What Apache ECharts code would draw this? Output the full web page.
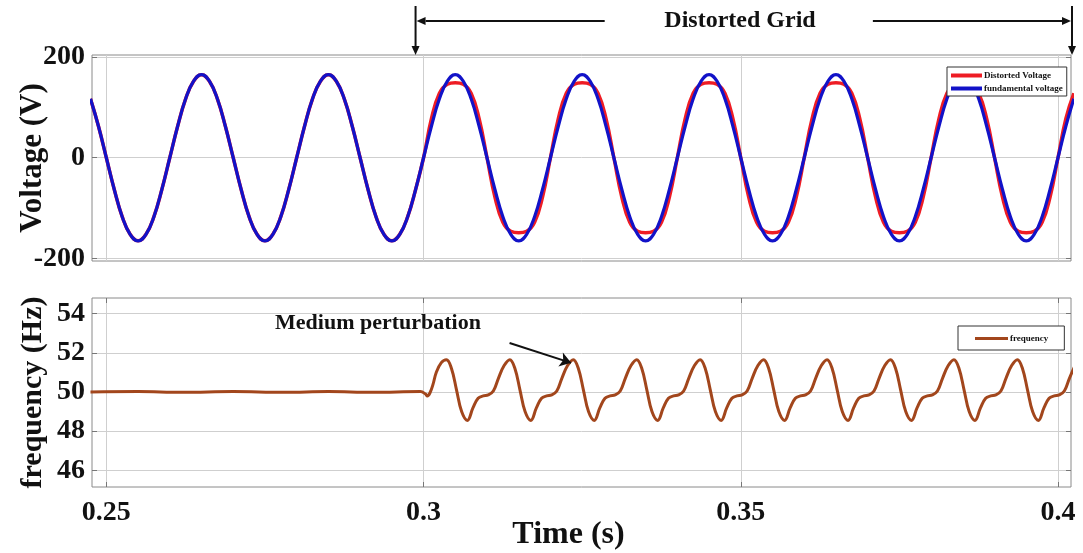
<!DOCTYPE html>
<html>
<head>
<meta http-equiv="Content-Type" content="text/html; charset=utf-8" />
<title>Distorted grid - voltage and frequency</title>
<style>
  body, html { padding: 0; margin: 0; background: #fff; }
</style>
</head>
<body>
<div id="container" style="width: 1083px; height: 553px"></div>
<script src="https://cdn.jsdelivr.net/npm/echarts@6/dist/echarts.min.js"></script>
<script>
// time samples of the voltage traces (s)
var voltTime = [0.2475, 0.24875,
  0.25, 0.25125, 0.2525, 0.25375, 0.255, 0.25625, 0.2575, 0.25875,
  0.26, 0.26125, 0.2625, 0.26375, 0.265, 0.26625, 0.2675, 0.26875,
  0.27, 0.27125, 0.2725, 0.27375, 0.275, 0.27625, 0.2775, 0.27875,
  0.28, 0.28125, 0.2825, 0.28375, 0.285, 0.28625, 0.2875, 0.28875,
  0.29, 0.29125, 0.2925, 0.29375, 0.295, 0.29625, 0.2975, 0.29875,
  0.30, 0.30125, 0.3025, 0.30375, 0.305, 0.30625, 0.3075, 0.30875,
  0.31, 0.31125, 0.3125, 0.31375, 0.315, 0.31625, 0.3175, 0.31875,
  0.32, 0.32125, 0.3225, 0.32375, 0.325, 0.32625, 0.3275, 0.32875,
  0.33, 0.33125, 0.3325, 0.33375, 0.335, 0.33625, 0.3375, 0.33875,
  0.34, 0.34125, 0.3425, 0.34375, 0.345, 0.34625, 0.3475, 0.34875,
  0.35, 0.35125, 0.3525, 0.35375, 0.355, 0.35625, 0.3575, 0.35875,
  0.36, 0.36125, 0.3625, 0.36375, 0.365, 0.36625, 0.3675, 0.36875,
  0.37, 0.37125, 0.3725, 0.37375, 0.375, 0.37625, 0.3775, 0.37875,
  0.38, 0.38125, 0.3825, 0.38375, 0.385, 0.38625, 0.3875, 0.38875,
  0.39, 0.39125, 0.3925, 0.39375, 0.395, 0.39625, 0.3975, 0.39875,
  0.40, 0.40125, 0.4025];

// fundamental voltage (V)
var fundamentalV = [117, 63,
  0, -63, -117, -152, -165, -152, -117, -63,
  0, 63, 117, 152, 165, 152, 117, 63,
  0, -63, -117, -152, -165, -152, -117, -63,
  0, 63, 117, 152, 165, 152, 117, 63,
  0, -63, -117, -152, -165, -152, -117, -63,
  0, 63, 117, 152, 165, 152, 117, 63,
  0, -63, -117, -152, -165, -152, -117, -63,
  0, 63, 117, 152, 165, 152, 117, 63,
  0, -63, -117, -152, -165, -152, -117, -63,
  0, 63, 117, 152, 165, 152, 117, 63,
  0, -63, -117, -152, -165, -152, -117, -63,
  0, 63, 117, 152, 165, 152, 117, 63,
  0, -63, -117, -152, -165, -152, -117, -63,
  0, 63, 117, 152, 165, 152, 117, 63,
  0, -63, -117, -152, -165, -152, -117, -63,
  0, 63, 117];

// distorted voltage (V), flat-topped after 0.3 s
var distortedV = [117, 63,
  0, -63, -117, -152, -165, -152, -117, -63,
  0, 63, 117, 152, 165, 152, 117, 63,
  0, -63, -117, -152, -165, -152, -117, -63,
  0, 63, 117, 152, 165, 152, 117, 63,
  0, -63, -117, -152, -165, -152, -117, -63,
  0, 78, 128, 146, 149, 146, 128, 78,
  0, -78, -128, -146, -149, -146, -128, -78,
  0, 78, 128, 146, 149, 146, 128, 78,
  0, -78, -128, -146, -149, -146, -128, -78,
  0, 78, 128, 146, 149, 146, 128, 78,
  0, -78, -128, -146, -149, -146, -128, -78,
  0, 78, 128, 146, 149, 146, 128, 78,
  0, -78, -128, -146, -149, -146, -128, -78,
  0, 78, 128, 146, 149, 146, 128, 78,
  0, -78, -128, -146, -149, -146, -128, -78,
  0, 78, 128];

// frequency trace (s, Hz)
var freqTime = [0.2475, 0.255, 0.262, 0.27, 0.278, 0.285, 0.292, 0.2995,
  0.3003, 0.3006, 0.3010, 0.3015, 0.3020, 0.3028,
  0.3036, 0.3044, 0.3052, 0.3060, 0.3069, 0.3078, 0.3086, 0.3094, 0.3102, 0.3110, 0.3118, 0.3127,
  0.3136, 0.3144, 0.3152, 0.3160, 0.3169, 0.3178, 0.3186, 0.3194, 0.3202, 0.3210, 0.3218, 0.3227,
  0.3236, 0.3244, 0.3252, 0.3260, 0.3269, 0.3278, 0.3286, 0.3294, 0.3302, 0.3310, 0.3318, 0.3327,
  0.3336, 0.3344, 0.3352, 0.3360, 0.3369, 0.3378, 0.3386, 0.3394, 0.3402, 0.3410, 0.3418, 0.3427,
  0.3436, 0.3444, 0.3452, 0.3460, 0.3469, 0.3478, 0.3486, 0.3494, 0.3502, 0.3510, 0.3518, 0.3527,
  0.3536, 0.3544, 0.3552, 0.3560, 0.3569, 0.3578, 0.3586, 0.3594, 0.3602, 0.3610, 0.3618, 0.3627,
  0.3636, 0.3644, 0.3652, 0.3660, 0.3669, 0.3678, 0.3686, 0.3694, 0.3702, 0.3710, 0.3718, 0.3727,
  0.3736, 0.3744, 0.3752, 0.3760, 0.3769, 0.3778, 0.3786, 0.3794, 0.3802, 0.3810, 0.3818, 0.3827,
  0.3836, 0.3844, 0.3852, 0.3860, 0.3869, 0.3878, 0.3886, 0.3894, 0.3902, 0.3910, 0.3918, 0.3927,
  0.3936, 0.3944, 0.3952, 0.3960, 0.3969, 0.3978, 0.3986, 0.3994, 0.4002, 0.4010, 0.4018, 0.4027];
var freqValue = [50.0, 50.02, 49.99, 50.02, 49.99, 50.02, 49.99, 50.02,
  49.9, 49.8, 49.95, 50.4, 51.0, 51.5,
  51.65, 51.2, 50.1, 49.0, 48.55, 49.2, 49.68, 49.8, 49.85, 50.05, 50.7, 51.35,
  51.65, 51.2, 50.1, 49.0, 48.55, 49.2, 49.68, 49.8, 49.85, 50.05, 50.7, 51.35,
  51.65, 51.2, 50.1, 49.0, 48.55, 49.2, 49.68, 49.8, 49.85, 50.05, 50.7, 51.35,
  51.65, 51.2, 50.1, 49.0, 48.55, 49.2, 49.68, 49.8, 49.85, 50.05, 50.7, 51.35,
  51.65, 51.2, 50.1, 49.0, 48.55, 49.2, 49.68, 49.8, 49.85, 50.05, 50.7, 51.35,
  51.65, 51.2, 50.1, 49.0, 48.55, 49.2, 49.68, 49.8, 49.85, 50.05, 50.7, 51.35,
  51.65, 51.2, 50.1, 49.0, 48.55, 49.2, 49.68, 49.8, 49.85, 50.05, 50.7, 51.35,
  51.65, 51.2, 50.1, 49.0, 48.55, 49.2, 49.68, 49.8, 49.85, 50.05, 50.7, 51.35,
  51.65, 51.2, 50.1, 49.0, 48.55, 49.2, 49.68, 49.8, 49.85, 50.05, 50.7, 51.35,
  51.65, 51.2, 50.1, 49.0, 48.55, 49.2, 49.68, 49.8, 49.85, 50.05, 50.7, 51.35];

var timeTicks = [0.25, 0.3, 0.35, 0.4];
var voltTicks = [-200, 0, 200];
var freqTicks = [46, 48, 50, 52, 54];

var tMin = 0.24774, tMax = 0.40205;
var serif = '"Liberation Serif", "Times New Roman", serif';

function pairs(xs, ys) {
  var out = [];
  for (var i = 0; i < xs.length; i++) out.push([xs[i], ys[i]]);
  return out;
}

function xAx(grid, pos, labels) {
  return {
    type: 'value', gridIndex: grid, position: pos, min: tMin, max: tMax,
    nameMoveOverlap: false,
    axisLine: { show: false },
    axisTick: { show: true, inside: true, length: 5, customValues: timeTicks, lineStyle: { color: '#777' } },
    axisLabel: { show: labels, customValues: timeTicks, margin: 12, color: '#111', fontFamily: serif, fontWeight: 'bold', fontSize: 28,
      formatter: function (v) { return String(+v.toFixed(2)); } },
    splitLine: { show: pos === 'bottom', lineStyle: { color: '#cfcfcf', width: 1 } }
  };
}

function yAx(grid, pos, min, max, ticks, name, nameSize) {
  return {
    type: 'value', gridIndex: grid, position: pos, min: min, max: max,
    name: name, nameLocation: 'middle', nameGap: 44, nameMoveOverlap: false,
    nameTextStyle: { color: '#111', fontFamily: serif, fontWeight: 'bold', fontSize: nameSize },
    axisLine: { show: false },
    axisTick: { show: true, inside: true, length: 5, customValues: ticks, lineStyle: { color: '#777' } },
    axisLabel: { show: pos === 'left', customValues: ticks, margin: 7, color: '#111', fontFamily: serif, fontWeight: 'bold', fontSize: 28 },
    splitLine: { show: pos === 'left', lineStyle: { color: '#cfcfcf', width: 1 } }
  };
}

var chart = echarts.init(document.getElementById('container'));

var xAxes = [xAx(0, 'bottom', false), xAx(0, 'top', false), xAx(1, 'bottom', true), xAx(1, 'top', false)];
xAxes[2].name = 'Time (s)';
xAxes[2].nameLocation = 'middle';
xAxes[2].nameGap = 32;
xAxes[2].nameTextStyle = { color: '#111', fontFamily: serif, fontWeight: 'bold', fontSize: 32, padding: [0, 26, 0, 0] };

chart.setOption({
  backgroundColor: '#fff',
  animation: false,
  grid: [
    { left: 92, top: 55, width: 979, height: 206, show: true, borderColor: '#8a8a8a', borderWidth: 1, containLabel: false, outerBoundsMode: 'none' },
    { left: 92, top: 298, width: 979, height: 189, show: true, borderColor: '#8a8a8a', borderWidth: 1, containLabel: false, outerBoundsMode: 'none' }
  ],
  xAxis: xAxes,
  yAxis: [
    yAx(0, 'left', -205, 204, voltTicks, 'Voltage (V)', 31),
    yAx(0, 'right', -205, 204, voltTicks, '', 31),
    yAx(1, 'left', 45.15, 54.8, freqTicks, 'frequency (Hz)', 30),
    yAx(1, 'right', 45.15, 54.8, freqTicks, '', 30)
  ],
  legend: [{
    data: ['Distorted Voltage', 'fundamental voltage'],
    orient: 'vertical', left: 947, top: 67,
    icon: 'rect', itemWidth: 31, itemHeight: 4, itemGap: 4,
    padding: [4, 4, 3, 4],
    backgroundColor: '#fff', borderColor: '#333', borderWidth: 1, borderRadius: 0,
    textStyle: { fontFamily: serif, fontWeight: 'bold', fontSize: 9, color: '#111', padding: [0, 0, 0, -3] }
  }, {
    data: ['frequency'],
    left: 958, top: 326,
    icon: 'rect', itemWidth: 33, itemHeight: 3,
    padding: [8, 16, 7, 17],
    backgroundColor: '#fff', borderColor: '#333', borderWidth: 1, borderRadius: 0,
    textStyle: { fontFamily: serif, fontWeight: 'bold', fontSize: 9, color: '#111', padding: [0, 0, 0, -3] }
  }],
  series: [{
    name: 'Distorted Voltage', type: 'line', xAxisIndex: 0, yAxisIndex: 0,
    data: pairs(voltTime, distortedV), smooth: 0.45, showSymbol: false,
    itemStyle: { color: '#ee1c24' }, lineStyle: { color: '#ee1c24', width: 3.5 }
  }, {
    name: 'fundamental voltage', type: 'line', xAxisIndex: 0, yAxisIndex: 0,
    data: pairs(voltTime, fundamentalV), smooth: 0.45, showSymbol: false,
    itemStyle: { color: '#1212c8' }, lineStyle: { color: '#1212c8', width: 3.2 }
  }, {
    name: 'frequency', type: 'line', xAxisIndex: 2, yAxisIndex: 2,
    data: pairs(freqTime, freqValue), smooth: 0.4, showSymbol: false,
    itemStyle: { color: '#a2461c' }, lineStyle: { color: '#a2461c', width: 3 },
    markLine: {
      silent: true, animation: false,
      symbol: ['none', 'arrow'], symbolSize: 11,
      label: { show: false },
      lineStyle: { color: '#111', width: 2, type: 'solid' },
      data: [[{ coord: [0.31356, 52.5] }, { coord: [0.32325, 51.49] }]]
    }
  }]
});

// "Distorted Grid" span markers above the voltage plot
function arrow(x1, y1, x2, y2) {
  var a = Math.atan2(y2 - y1, x2 - x1), L = 9, W = 4;
  var bx = x2 - L * Math.cos(a), by = y2 - L * Math.sin(a);
  return [{
    type: 'line', shape: { x1: x1, y1: y1, x2: bx, y2: by },
    style: { stroke: '#111', lineWidth: 2 }
  }, {
    type: 'polygon',
    shape: { points: [[x2, y2], [bx + W * Math.sin(a), by - W * Math.cos(a)], [bx - W * Math.sin(a), by + W * Math.cos(a)]] },
    style: { fill: '#111' }
  }];
}

var xs = chart.convertToPixel({ xAxisIndex: 0 }, 0.29874);
var xe = chart.convertToPixel({ xAxisIndex: 0 }, 0.40221);
var xl = chart.convertToPixel({ xAxisIndex: 0 }, 0.32855);
var xr = chart.convertToPixel({ xAxisIndex: 0 }, 0.37082);

var g = [].concat(
  arrow(xs, 6, xs, 55),
  arrow(xl, 21, xs + 1, 21),
  arrow(xr, 21, xe - 1, 21),
  arrow(xe, 6, xe, 55)
);
g.push({
  type: 'text', x: 740, y: 21,
  style: { text: 'Distorted Grid', fill: '#111', font: 'bold 24px ' + serif, textAlign: 'center', textVerticalAlign: 'middle' }
});
g.push({
  type: 'text', x: 378, y: 323,
  style: { text: 'Medium perturbation', fill: '#111', font: 'bold 22px ' + serif, textAlign: 'center', textVerticalAlign: 'middle' }
});
chart.setOption({ graphic: g });
</script>
</body>
</html>
